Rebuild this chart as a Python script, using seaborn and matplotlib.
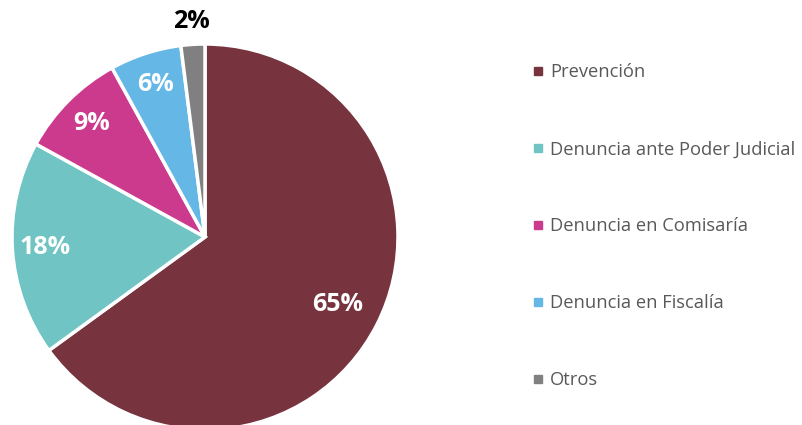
import numpy as np
import matplotlib
matplotlib.use("Agg")
import matplotlib.pyplot as plt
from matplotlib.lines import Line2D
import seaborn as sns

categories = ["Prevención", "Denuncia ante Poder Judicial", "Denuncia en Comisaría",
              "Denuncia en Fiscalía", "Otros"]
values = [65, 18, 9, 6, 2]
colors = ["#77343F", "#70C4C4", "#CC3A8E", "#65B8E6", "#808080"]

sns.set_theme(style="white")
plt.rcParams["font.family"] = ["Open Sans", "DejaVu Sans"]
palette = sns.color_palette(colors)

fig = plt.figure(figsize=(8.02, 4.25), dpi=100)
W, H = 802, 425
cx, cy, r = 205, 237, 193
ax = fig.add_axes([(cx - r) / W, (H - cy - r) / H, 2 * r / W, 2 * r / H])
wedges, _ = ax.pie(values, colors=palette, startangle=90, counterclock=False,
                   radius=1, wedgeprops=dict(edgecolor="white", linewidth=2.5))
ax.set_xlim(-1, 1)
ax.set_ylim(-1, 1)
ax.set_aspect("equal")
ax.axis("off")

for w, v in zip(wedges, values):
    mid = np.deg2rad((w.theta1 + w.theta2) / 2)
    if v < 4:
        d, col = 1.12, "black"
    elif v > 50:
        d, col = 0.77, "white"
    else:
        d, col = 0.83, "white"
    ax.text(d * np.cos(mid), d * np.sin(mid), f"{v}%", ha="center", va="center",
            color=col, fontsize=18, fontweight="bold", clip_on=False)

handles = [Line2D([0], [0], marker="s", linestyle="none", markersize=5.5,
                  markerfacecolor=c, markeredgecolor=c) for c in palette]
leg = fig.legend(handles, categories, loc="upper left", bbox_to_anchor=(525 / W, 1 - 56 / H),
                 frameon=False, fontsize=13.2, labelspacing=3.22, handlelength=0.6,
                 handletextpad=0.35, borderaxespad=0)
for t in leg.get_texts():
    t.set_color("#595959")

fig.savefig("out.png", dpi=100)
